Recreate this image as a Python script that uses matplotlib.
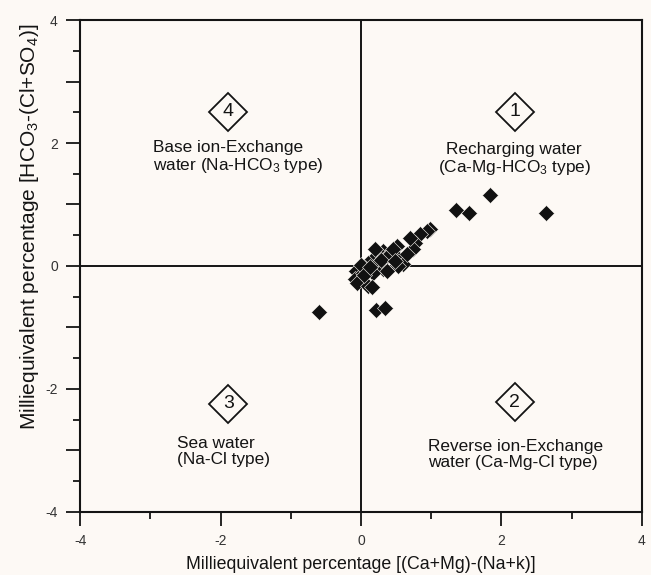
import matplotlib.pyplot as plt
import numpy as np

plt.rcParams['font.family'] = ['Liberation Sans', 'DejaVu Sans']
plt.rcParams['mathtext.fontset'] = 'custom'
plt.rcParams['mathtext.rm'] = 'Liberation Sans'
plt.rcParams['mathtext.it'] = 'Liberation Sans'

# (Ca+Mg)-(Na+K) vs HCO3-(Cl+SO4), meq %
x_vals = [-0.60, 0.21, 0.34, 1.84, 1.35, 1.54, 2.63, 0.98, 0.94, 0.84, 0.77,
          0.74, 0.51, 0.53, 0.60, 0.53, 0.31, 0.27, 0.37, 0.17, 0.10, 0.23,
          0.31, 0.37, 0.17, -0.07, -0.09, -0.06, 0.10, 0.15, 0.03, 0.06,
          0.42, 0.45, 0.20, 0.28, 0.00, 0.05, 0.66, 0.70, 0.48, 0.13]
y_vals = [-0.75, -0.72, -0.69, 1.16, 0.91, 0.86, 0.86, 0.60, 0.57, 0.52, 0.38,
          0.28, 0.33, 0.13, 0.03, 0.00, 0.24, 0.20, 0.16, 0.11, 0.05, 0.03,
          -0.05, -0.08, -0.11, -0.08, -0.21, -0.28, -0.33, -0.35, -0.11, -0.03,
          0.20, 0.28, 0.28, 0.10, 0.02, -0.14, 0.20, 0.45, 0.08, -0.02]

x_ticks = [-4, -2, 0, 2, 4]
x_tick_text = ['-4', '-2', '0', '2', '4']
y_ticks = [-4, -3, -2, -1, 0, 1, 2, 3, 4]
y_tick_text = ['-4', '', '-2', '', '0', '', '2', '', '4']

# quadrant markers: number, centre, description
quad_nums = ['4', '1', '3', '2']
quad_x = [-1.89, 2.19, -1.89, 2.19]
quad_y = [2.51, 2.51, -2.24, -2.22]
quad_labels = ['Base ion-Exchange\nwater (Na-HCO$_3$ type)',
               'Recharging water\n(Ca-Mg-HCO$_3$ type)',
               'Sea water\n(Na-Cl type)',
               'Reverse ion-Exchange\nwater (Ca-Mg-Cl type)']
label_x = [-2.96, 2.18, -2.62, 0.95]
label_y = [1.76, 1.73, -3.02, -3.07]
label_ha = ['left', 'center', 'left', 'left']

bg = '#fdf9f5'
ink = '#141414'
fig = plt.figure(figsize=(6.51, 5.75), dpi=100, facecolor=bg)
ax = fig.add_axes([0.123, 0.11, 0.863, 0.855], facecolor=bg)

ax.axhline(0, color=ink, lw=1.4, zorder=1)
ax.axvline(0, color=ink, lw=1.4, zorder=1)

ax.plot(x_vals, y_vals, 'D', ms=8.5, mfc='#111111', mec=bg, mew=0.4,
        ls='none', zorder=3)

# numbered diamonds and quadrant descriptions
for num, qx, qy in zip(quad_nums, quad_x, quad_y):
    ax.plot(qx, qy, 'D', ms=19, mfc=bg, mec=ink, mew=1.3, zorder=2)
    ax.text(qx, qy, num, ha='center', va='center', fontsize=14,
            color=ink, zorder=4)

for lab, lx, ly, ha in zip(quad_labels, label_x, label_y, label_ha):
    ax.text(lx, ly, lab, ha=ha, va='center', fontsize=12.4,
            linespacing=1.1, color=ink)

ax.set_xlim(-4, 4)
ax.set_ylim(-4, 4)
ax.set_xticks(x_ticks)
ax.set_xticklabels(x_tick_text)
ax.set_yticks(y_ticks)
ax.set_yticklabels(y_tick_text)
ax.set_xticks(np.arange(-3, 4, 2), minor=True)
ax.set_yticks(np.arange(-3.5, 4, 1), minor=True)
ax.tick_params(which='major', direction='out', length=10, width=1.3,
               labelsize=10, labelcolor='#333333', color=ink, pad=6)
ax.tick_params(which='minor', direction='out', length=5, width=1.3,
               color=ink)
for s in ax.spines.values():
    s.set_linewidth(1.5)
    s.set_color(ink)

ax.set_xlabel('Milliequivalent percentage [(Ca+Mg)-(Na+k)]', fontsize=12.8,
              color=ink, labelpad=6)
ax.set_ylabel('Milliequivalent percentage [HCO$_3$-(Cl+SO$_4$)]',
              fontsize=15, color=ink)
ax.yaxis.set_label_coords(-0.07, 0.58)

plt.savefig('out.png', dpi=100, facecolor=bg)
